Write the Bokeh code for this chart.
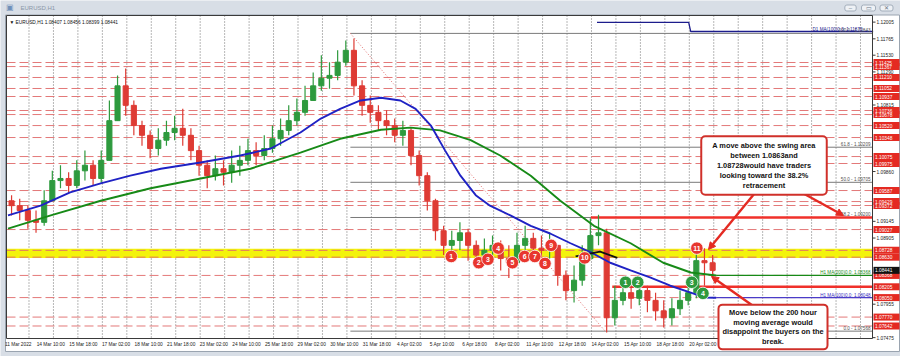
from bokeh.plotting import figure
from bokeh.models import Range1d, Label, Arrow, NormalHead, ColumnDataSource
from bokeh.embed import file_html
from bokeh.resources import INLINE
from bokeh.core.properties import value

# ------------------------------------------------------------------ data
SYMBOL = "EURUSD,H1"
LAST_OHLC = "1.08407 1.08456 1.08399 1.08441"
CANDLE_BARS = 8          # each drawn candle summarises 8 hourly bars
first_open = 1.0944
closes = [1.0937, 1.0930, 1.0916, 1.0913, 1.0944, 1.0973, 1.0976, 1.0966, 1.0987, 1.0995,
          1.0976, 1.1002, 1.1059, 1.1109, 1.1081, 1.1052, 1.1038, 1.1019, 1.1031, 1.1042,
          1.1048, 1.1038, 1.1016, 1.0995, 1.0980, 1.0990, 1.0985, 1.0995, 1.1002, 1.1016,
          1.1009, 1.1019, 1.1033, 1.1045, 1.1059, 1.1071, 1.1088, 1.1109, 1.1120, 1.1124,
          1.1143, 1.1160, 1.1109, 1.1081, 1.1071, 1.1059, 1.1052, 1.1038, 1.1045, 1.1009,
          1.0980, 1.0944, 1.0901, 1.0880, 1.0887, 1.0898, 1.0880, 1.0866, 1.0873, 1.0880,
          1.0861, 1.0855, 1.0880, 1.0890, 1.0876, 1.0873, 1.0880, 1.0837, 1.0815, 1.0830,
          1.0861, 1.0894, 1.0898, 1.0776, 1.0801, 1.0812, 1.0804, 1.0815, 1.0801, 1.0786,
          1.0776, 1.0789, 1.0801, 1.0812, 1.0858, 1.0855, 1.08441]
highs = [1.0952, 1.0947, 1.0937, 1.0930, 1.0959, 1.0987, 1.0995, 1.0985, 1.1002, 1.1016,
         1.1002, 1.1016, 1.1088, 1.1124, 1.1134, 1.1088, 1.1059, 1.1045, 1.1048, 1.1059,
         1.1066, 1.1076, 1.1048, 1.1023, 1.1002, 1.1009, 1.1002, 1.1016, 1.1023, 1.1033,
         1.1028, 1.1038, 1.1052, 1.1062, 1.1081, 1.1091, 1.1109, 1.1128, 1.1153, 1.1143,
         1.1160, 1.1174, 1.1177, 1.1117, 1.1095, 1.1081, 1.1074, 1.1062, 1.1059, 1.1048,
         1.1016, 1.0985, 1.0947, 1.0908, 1.0901, 1.0913, 1.0904, 1.0887, 1.0890, 1.0894,
         1.0887, 1.0880, 1.0898, 1.0908, 1.0898, 1.0894, 1.0898, 1.0880, 1.0844, 1.0851,
         1.0880, 1.0919, 1.0924, 1.0904, 1.0822, 1.0827, 1.0822, 1.0830, 1.0822, 1.0812,
         1.0801, 1.0804, 1.0815, 1.0827, 1.0880, 1.0876, 1.0866]
lows = [1.0923, 1.0916, 1.0904, 1.0898, 1.0908, 1.0944, 1.0962, 1.0956, 1.0962, 1.0973,
        1.0966, 1.0970, 1.1002, 1.1059, 1.1066, 1.1038, 1.1023, 1.1005, 1.1009, 1.1023,
        1.1031, 1.1023, 1.1002, 1.0980, 1.0962, 1.0973, 1.0966, 1.0970, 1.0980, 1.0995,
        1.0995, 1.1002, 1.1013, 1.1023, 1.1038, 1.1052, 1.1066, 1.1088, 1.1102, 1.1105,
        1.1117, 1.1138, 1.1095, 1.1066, 1.1056, 1.1045, 1.1038, 1.1028, 1.1023, 1.0995,
        1.0966, 1.0930, 1.0887, 1.0866, 1.0861, 1.0873, 1.0858, 1.0847, 1.0851, 1.0861,
        1.0844, 1.0833, 1.0851, 1.0866, 1.0858, 1.0855, 1.0861, 1.0822, 1.0801, 1.0798,
        1.0822, 1.0858, 1.0880, 1.0755, 1.0765, 1.0794, 1.0789, 1.0794, 1.0784, 1.0772,
        1.0762, 1.0765, 1.0780, 1.0794, 1.0804, 1.0822, 1.0833]

ma100_bars = [0, 32, 61, 91, 120, 150, 189, 228, 258, 287, 307, 326, 346, 366, 385, 400,
              415, 429, 444, 459, 473, 493, 513, 532, 552, 572, 591, 611, 630, 650, 670, 684, 695]
ma100 = [1.0923, 1.0937, 1.0956, 1.0969, 1.0980, 1.0990, 1.0999, 1.1009, 1.1019, 1.1042,
         1.1062, 1.1076, 1.1088, 1.1092, 1.1088, 1.1076, 1.1052, 1.1016, 1.0980, 1.0952,
         1.0937, 1.0923, 1.0908, 1.0897, 1.0883, 1.0870, 1.0855, 1.0844, 1.0834, 1.0822,
         1.0812, 1.0805, 1.08048]
ma200_bars = [0, 42, 91, 140, 189, 238, 287, 326, 366, 395, 424, 454, 483, 513, 542, 575,
              611, 643, 670, 695]
ma200 = [1.0904, 1.0923, 1.0944, 1.0962, 1.0976, 1.0990, 1.1013, 1.1033, 1.1046, 1.1049,
         1.1045, 1.1031, 1.1009, 1.0980, 1.0944, 1.0908, 1.0883, 1.0855, 1.0841, 1.08368]
black_bars = [557, 581, 598]
black_line = [1.0864, 1.0871, 1.0862]
d1ma_bars = [578, 668, 670, 849]
d1ma = [1.1200, 1.1200, 1.11870, 1.11870]

band_top, band_bottom = 1.0875, 1.0862
red_levels = [1.11425, 1.11367, 1.11210, 1.11052, 1.10937, 1.10736, 1.10678, 1.10520,
              1.10348, 1.10075, 1.09975, 1.09587, 1.09429, 1.09372, 1.09027, 1.08728,
              1.08630, 1.08368, 1.08050, 1.07770, 1.07642]
thick_levels = [1.09200, 1.08205]
thick_start_bars = [572, 593]
last_price = 1.08441

fib_pct = ["100.0", "61.8", "50.0", "38.2", "0.0"]
fib_price = [1.11843, 1.10209, 1.09705, 1.09200, 1.07568]
fib_start_bar = 336
fib_end_bar = 586

red_marks_bar = [435, 462, 471, 481, 495, 507, 517, 527, 533, 566, 676]
red_marks_price = [1.0864, 1.0855, 1.0860, 1.0876, 1.0855, 1.0864, 1.0864, 1.0854, 1.0880, 1.0862, 1.0876]
green_marks_bar = [606, 618, 671, 682]
green_marks_price = [1.0827, 1.0827, 1.0827, 1.0811]

x_labels = ["11 Mar 2022", "14 Mar 10:00", "15 Mar 18:00", "17 Mar 02:00", "18 Mar 10:00",
            "21 Mar 18:00", "23 Mar 02:00", "24 Mar 10:00", "25 Mar 18:00", "29 Mar 02:00",
            "30 Mar 10:00", "31 Mar 18:00", "4 Apr 02:00", "5 Apr 10:00", "6 Apr 18:00",
            "8 Apr 02:00", "11 Apr 10:00", "12 Apr 18:00", "14 Apr 02:00", "15 Apr 10:00",
            "18 Apr 18:00", "20 Apr 02:00"]
BARS_PER_LABEL = 32
y_ticks = [1.12005, 1.11765, 1.11530, 1.11290, 1.10815, 1.09860, 1.09145, 1.08905, 1.07955, 1.07475]

box1_text = ("A move above the swing area\nbetween 1.0863and\n1.08728would have traders\n"
             "looking toward the 38.2%\nretracement")
box2_text = "Move below the 200 hour\nmoving average would\ndisappoint the buyers on the\nbreak."

# ------------------------------------------------------------------ layout helpers (pixel -> data)
PX0, PXB = 7.5, 1.019        # pixel of bar 0, pixels per bar
P_TOP, PXP = 1.1210, 6965.0  # price at pixel row 15, pixels per price unit
def bx(px):
    return (px - PX0) / PXB
def py(ypx):
    return P_TOP - (ypx - 15) / PXP

FONT = "Liberation Sans"
RED = "#e42a22"
XL, XR = bx(6), bx(872)          # chart frame, left/right
YT, YB = py(15), py(338)         # chart frame, top/bottom

p = figure(width=900, height=356, x_range=Range1d(bx(0), bx(900)), y_range=Range1d(py(356), py(0)),
           output_backend="svg", toolbar_location=None, title=None,
           x_axis_type=None, y_axis_type=None, min_border=0)
p.background_fill_color = "#d8dee6"
p.border_fill_color = "#d8dee6"
p.outline_line_color = None

# window client area (white) and title bar line
p.quad(left=[bx(5)], right=[bx(899)], top=[py(14.5)], bottom=[py(351)], fill_color="white",
       line_color="#9aa4b0", line_width=1)

# vertical dotted grid
grid_bars = [20.6 + 24 * k for k in range(35)]
p.segment(x0=grid_bars, x1=grid_bars, y0=[YT] * len(grid_bars), y1=[YB] * len(grid_bars),
          line_color="#6f6f6f", line_dash="1 2", line_width=1)

# swing band
p.quad(left=[XL], right=[XR], bottom=[band_bottom], top=[band_top],
       fill_color="#f3f30c", line_color=None)

# red dashed levels
p.segment(x0=[XL] * len(red_levels), x1=[XR] * len(red_levels), y0=red_levels, y1=red_levels,
          line_color="#e06a6a", line_width=1, line_dash="9 4", line_alpha=0.9)

# fib lines + diagonal
p.segment(x0=[fib_start_bar] * len(fib_price), x1=[XR] * len(fib_price), y0=fib_price, y1=fib_price,
          line_color="#7a7a7a", line_width=1)
p.line([fib_start_bar, fib_end_bar], [fib_price[0], fib_price[-1]], line_color="#e06a6a",
       line_dash="1 2", line_width=1)

# thick red lines
p.segment(x0=thick_start_bars, x1=[XR] * 2, y0=thick_levels, y1=thick_levels,
          line_color="#f0302a", line_width=2.6)

# D1 MA
p.line(d1ma_bars, d1ma, line_color="#1c1c8c", line_width=1.3)

# candles
n = len(closes)
opens = [first_open] + closes[:-1]
xc = [CANDLE_BARS * k + 3.5 for k in range(n)]
cols = ["#2e9a3e" if c >= o else "#de3b34" for o, c in zip(opens, closes)]
src = ColumnDataSource(dict(x=xc, h=highs, l=lows,
                            top=[max(o, c) for o, c in zip(opens, closes)],
                            bot=[min(o, c) for o, c in zip(opens, closes)], col=cols))
p.segment(x0="x", x1="x", y0="l", y1="h", line_color="col", line_width=1.2, source=src)
p.vbar(x="x", width=5, top="top", bottom="bot", fill_color="col", line_color="col", source=src)

# moving averages
p.line(ma200_bars, ma200, line_color="#178a17", line_width=1.9)
p.line(ma100_bars, ma100, line_color="#1f22c4", line_width=1.9)
p.line(black_bars, black_line, line_color="#111111", line_width=1.8)
p.segment(x0=[ma200_bars[-1]], x1=[XR], y0=[ma200[-1]], y1=[ma200[-1]], line_color="#178a17", line_width=1.2)
p.segment(x0=[ma100_bars[-1]], x1=[XR], y0=[ma100[-1]], y1=[ma100[-1]], line_color="#4a3cc8", line_width=1.2)

# numbered markers
p.scatter(red_marks_bar, red_marks_price, size=12.5, fill_color="#e8362e", line_color="white", line_width=0.8)
p.text(red_marks_bar, red_marks_price, text=[str(i + 1) for i in range(len(red_marks_bar))],
       text_align="center", text_baseline="middle", text_color="white",
       text_font=value(FONT), text_font_size="7px", text_font_style="bold")
p.scatter(green_marks_bar, green_marks_price, size=12.5, fill_color="#2e9a3e", line_color="white", line_width=0.8)
p.text(green_marks_bar, green_marks_price, text=[str(i + 1) for i in range(len(green_marks_bar))],
       text_align="center", text_baseline="middle", text_color="white",
       text_font=value(FONT), text_font_size="7px", text_font_style="bold")

# fib / MA texts
p.text(x=[bx(870)] * len(fib_price), y=fib_price, text=[f"{a} - {b:.5f}" for a, b in zip(fib_pct, fib_price)],
       text_align="right", text_baseline="bottom", text_font=value(FONT), text_font_size="4.6px",
       text_color="#505050")
p.text(x=[bx(870)], y=[ma200[-1]], text=[f"H1 MA(200)0.0: {ma200[-1]:.5f}"], text_align="right",
       text_baseline="bottom", text_font=value(FONT), text_font_size="4.6px", text_color="#178a17")
p.text(x=[bx(870)], y=[ma100[-1]], text=[f"H1 MA(100)0.0: {ma100[-1]:.5f}"], text_align="right",
       text_baseline="bottom", text_font=value(FONT), text_font_size="4.6px", text_color="#3a30c0")
p.text(x=[bx(862)], y=[d1ma[-1]], text=[f"D1 MA(100)0.0: {d1ma[-1]:.5f}"], text_align="right",
       text_baseline="bottom", text_font=value(FONT), text_font_size="4.6px", text_color="#1c1c8c")

# chart frame
p.quad(left=[XL], right=[XR], top=[YT], bottom=[YB], fill_color=None, line_color="#3a3a3a", line_width=1)

# x axis labels
xticks = [BARS_PER_LABEL * i + 10 for i in range(len(x_labels))]
p.text(x=xticks, y=[py(344)] * len(xticks), text=x_labels, text_align="center", text_baseline="middle",
       text_font=value(FONT), text_font_size="4.8px", text_color="#222222")

# y axis ticks and labels
p.segment(x0=[XR] * len(y_ticks), x1=[bx(875)] * len(y_ticks), y0=y_ticks, y1=y_ticks,
          line_color="#3a3a3a", line_width=1)
p.text(x=[bx(876)] * len(y_ticks), y=y_ticks, text=[f"{t:.5f}" for t in y_ticks], text_align="left",
       text_baseline="middle", text_font=value(FONT), text_font_size="4.8px", text_color="#222222")

# price tags on the right axis
tag_levels = red_levels + [thick_levels[1]]
p.rect(x=[bx(886)] * len(tag_levels), y=tag_levels, width=26, height=7, width_units="screen",
       height_units="screen", fill_color=RED, line_color=None)
p.text(x=[bx(874.5)] * len(tag_levels), y=tag_levels, text=[f"{v:.5f}" for v in tag_levels],
       text_align="left", text_baseline="middle", text_font=value(FONT), text_font_size="4.8px",
       text_color="white")
p.rect(x=[bx(886)], y=[last_price], width=26, height=7, width_units="screen", height_units="screen",
       fill_color="#111111", line_color=None)
p.text(x=[bx(874.5)], y=[last_price], text=[f"{last_price:.5f}"], text_align="left", text_baseline="middle",
       text_font=value(FONT), text_font_size="4.8px", text_color="white")

# arrows
for (x0, y0, x1, y1) in [(754, 193, 708, 249), (803, 193, 843, 215), (752, 305, 711, 276)]:
    p.add_layout(Arrow(end=NormalHead(size=7, fill_color=RED, line_color=RED),
                       x_start=bx(x0), y_start=py(y0), x_end=bx(x1), y_end=py(y1),
                       line_color=RED, line_width=2.4))

# comment boxes
p.add_layout(Label(x=bx(763.5), y=py(165), text=box1_text, text_align="center", text_baseline="middle",
                   text_font=FONT, text_font_style="bold", text_font_size="7.4px", text_color="#111111",
                   background_fill_color="white", border_line_color="#d0302a", border_line_width=2,
                   padding=(11, 5), border_radius=4, text_line_height=1.1))
p.add_layout(Label(x=bx(772.5), y=py(326.5), text=box2_text, text_align="center", text_baseline="middle",
                   text_font=FONT, text_font_style="bold", text_font_size="7.4px", text_color="#111111",
                   background_fill_color="white", border_line_color="#d0302a", border_line_width=2,
                   padding=(4, 3), border_radius=4, text_line_height=1.1))

# header texts
p.add_layout(Label(x=bx(9), y=py(22), text=f"\u25bc {SYMBOL}  {LAST_OHLC}", text_align="left",
                   text_baseline="middle", text_font=FONT, text_font_size="4.8px", text_color="#111111"))
p.add_layout(Label(x=bx(20), y=py(7), text=SYMBOL, text_align="left", text_baseline="middle",
                   text_font=FONT, text_font_size="6px", text_color="#8a96a6"))
p.add_layout(Label(x=bx(9.5), y=py(7), text="\u25a3", text_align="center", text_baseline="middle",
                   text_font=FONT, text_font_size="8px", text_color="#6f8fb8"))
for xpx, sym in [(850, "\u2013"), (868, "\u25ad"), (886, "\u2715")]:
    p.add_layout(Label(x=bx(xpx), y=py(7.5), text=sym, text_align="center", text_baseline="middle",
                       text_font=FONT, text_font_size="6px", text_color="#6a7686",
                       background_fill_color="#eef1f5", border_line_color="#a3aebb",
                       padding=(4, 0), border_radius=2))

open("out.html", "w").write(file_html(p, INLINE))
